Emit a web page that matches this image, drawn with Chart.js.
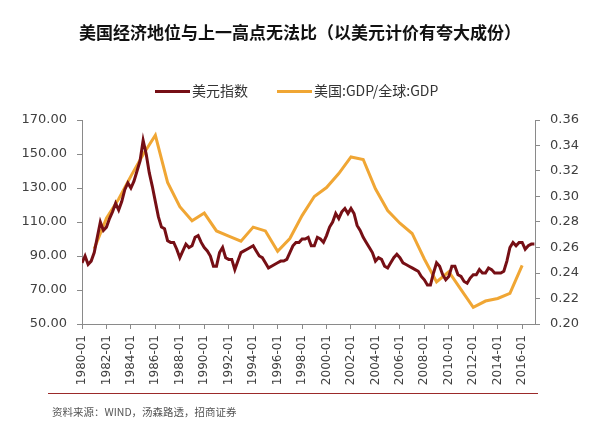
<!DOCTYPE html>
<html>
<head>
<meta charset="utf-8">
<script src="https://cdn.jsdelivr.net/npm/chart.js@4/dist/chart.umd.min.js"></script>
<style>
html,body{margin:0;padding:0;background:#fff;}
#wrap{width:600px;height:427px;position:relative;}
</style>
</head>
<body>
<div id="wrap"><canvas id="c" width="600" height="427"></canvas></div>
<script>
// ---- data ----
const titleText = '美国经济地位与上一高点无法比（以美元计价有夸大成份）';
const seriesNames = ['美元指数', '美国:GDP/全球:GDP'];
const sourceText = '资料来源：WIND，汤森路透，招商证券';

// Dollar index, quarterly from 1980-01 to 2017-01
const dollarStartYear = 1980;
const dollarStep = 0.25;
const dollarIndex = [
  86, 90, 85, 87,      // 1980
  92, 101, 110, 105,   // 1981
  107, 112, 116, 121,  // 1982
  117, 122, 129, 133,  // 1983
  130, 134, 140, 146,  // 1984
  158, 150, 139, 131,  // 1985
  122, 113, 107, 106,  // 1986
  99, 98, 98, 94,      // 1987
  89, 93, 97, 95,      // 1988
  96, 101, 102, 98,    // 1989
  95, 93, 90, 84,      // 1990
  84, 92, 95, 89,      // 1991
  88, 88, 82, 87,      // 1992
  92, 93, 94, 95,      // 1993
  96, 93, 90, 89,      // 1994
  86, 83, 84, 85,      // 1995
  86, 87, 87, 88,      // 1996
  92, 96, 98, 98,      // 1997
  100, 100, 101, 96,   // 1998
  96, 101, 100, 98,    // 1999
  102, 107, 110, 115,  // 2000
  112, 116, 118, 115,  // 2001
  118, 115, 108, 105,  // 2002
  101, 98, 95, 92,     // 2003
  87, 89, 88, 84,      // 2004
  83, 86, 89, 91,      // 2005
  89, 86, 85, 84,      // 2006
  83, 82, 81, 78,      // 2007
  76, 73, 73, 80,      // 2008
  86, 84, 79, 76,      // 2009
  78, 84, 84, 79,      // 2010
  78, 75, 74, 77,      // 2011
  79, 79, 82, 80,      // 2012
  80, 83, 82, 80,      // 2013
  80, 80, 81, 87,      // 2014
  95, 98, 96, 98,      // 2015
  98, 94, 96, 97,      // 2016
  97                   // 2017
];

// US GDP / world GDP, annual (January points)
const gdpYears = [1981,1982,1983,1984,1985,1986,1987,1988,1989,1990,1991,1992,1993,1994,1995,1996,1997,1998,
                  1999,2000,2001,2002,2003,2004,2005,2006,2007,2008,2009,2010,2011,2012,2013,2014,2015,2016];
const gdpShare = [0.259,0.283,0.298,0.316,0.333,0.348,0.311,0.292,0.281,0.287,0.273,0.269,0.265,0.276,0.273,0.257,0.267,0.285,
                  0.300,0.307,0.318,0.331,0.329,0.306,0.289,0.279,0.271,0.251,0.233,0.241,0.227,0.213,0.218,0.220,0.224,0.246];

// X tick labels (every second January)
const xTickYears = [1980,1982,1984,1986,1988,1990,1992,1994,1996,1998,2000,2002,2004,2006,2008,2010,2012,2014,2016];

// Axis ranges / ticks
const leftAxis = {min: 50, max: 170, step: 20};
const rightAxis = {min: 0.20, max: 0.36, step: 0.02};
const xAxisRange = {min: 1980, max: 2017.05};

// ---- build ----
const colDollar = '#760f15';
const colGdp = '#f0a634';

const dollarPts = dollarIndex.map((v, i) => ({x: dollarStartYear + i * dollarStep, y: v}));
const gdpPts = gdpShare.map((v, i) => ({x: gdpYears[i], y: v}));

const decor = {
  id: 'decor',
  afterDraw(chart) {
    const ctx = chart.ctx;
    ctx.save();
    // title
    ctx.fillStyle = '#111';
    ctx.font = 'bold 17px "Noto Sans CJK SC"';
    ctx.textAlign = 'center';
    ctx.textBaseline = 'middle';
    ctx.fillText(titleText, 300, 33);
    // legend
    const items = [
      {x: 155, color: colDollar, label: seriesNames[0]},
      {x: 277, color: colGdp, label: seriesNames[1]}
    ];
    ctx.font = '14px "Noto Sans CJK SC"';
    ctx.textAlign = 'left';
    items.forEach(it => {
      ctx.strokeStyle = it.color;
      ctx.lineWidth = 3;
      ctx.beginPath();
      ctx.moveTo(it.x, 91.5);
      ctx.lineTo(it.x + 35, 91.5);
      ctx.stroke();
      ctx.fillStyle = '#333';
      ctx.fillText(it.label, it.x + 37, 91);
    });
    // source line and text
    ctx.strokeStyle = '#9b2a2a';
    ctx.lineWidth = 1;
    ctx.beginPath();
    ctx.moveTo(48, 393.5);
    ctx.lineTo(538, 393.5);
    ctx.stroke();
    ctx.fillStyle = '#555';
    ctx.font = '10.5px "Noto Sans CJK SC"';
    ctx.fillText(sourceText, 52, 412);
    ctx.restore();
  }
};

const tickFont = {family: '"DejaVu Sans", Verdana, sans-serif', size: 13};

new Chart(document.getElementById('c'), {
  type: 'line',
  data: {
    datasets: [
      {label: seriesNames[0], data: dollarPts, yAxisID: 'y', borderColor: colDollar, backgroundColor: colDollar,
       borderWidth: 3, pointRadius: 0, tension: 0},
      {label: seriesNames[1], data: gdpPts, yAxisID: 'y1', borderColor: colGdp, backgroundColor: colGdp,
       borderWidth: 3, pointRadius: 0, tension: 0}
    ]
  },
  options: {
    responsive: false,
    animation: false,
    events: [],
    layout: {padding: {top: 120, left: 0, right: 0, bottom: 0}},
    plugins: {legend: {display: false}, title: {display: false}, tooltip: {enabled: false}},
    scales: {
      x: {
        type: 'linear', position: 'bottom',
        min: xAxisRange.min, max: xAxisRange.max,
        afterBuildTicks: s => { s.ticks = xTickYears.map(v => ({value: v})); },
        afterFit: s => { s.height = 103; },
        grid: {drawOnChartArea: false, drawTicks: true, tickLength: 5, color: '#8a8a8a'},
        border: {display: true, color: '#8a8a8a'},
        ticks: {autoSkip: false, minRotation: 90, maxRotation: 90, padding: 6,
                color: '#404040', font: {family: tickFont.family, size: 12},
                callback: v => v + '-01'}
      },
      y: {
        position: 'left', min: leftAxis.min, max: leftAxis.max,
        afterFit: s => { s.width = 82; },
        grid: {drawOnChartArea: false, drawTicks: true, tickLength: 5, color: '#8a8a8a'},
        border: {display: true, color: '#8a8a8a'},
        ticks: {stepSize: leftAxis.step, padding: 10, color: '#404040', font: tickFont, callback: v => Number(v).toFixed(2)}
      },
      y1: {
        position: 'right', min: rightAxis.min, max: rightAxis.max,
        afterFit: s => { s.width = 65; },
        grid: {drawOnChartArea: false, drawTicks: true, tickLength: 5, color: '#8a8a8a'},
        border: {display: true, color: '#8a8a8a'},
        ticks: {stepSize: rightAxis.step, padding: 10, color: '#404040', font: tickFont, callback: v => Number(v).toFixed(2)}
      }
    }
  },
  plugins: [decor]
});
</script>
</body>
</html>
